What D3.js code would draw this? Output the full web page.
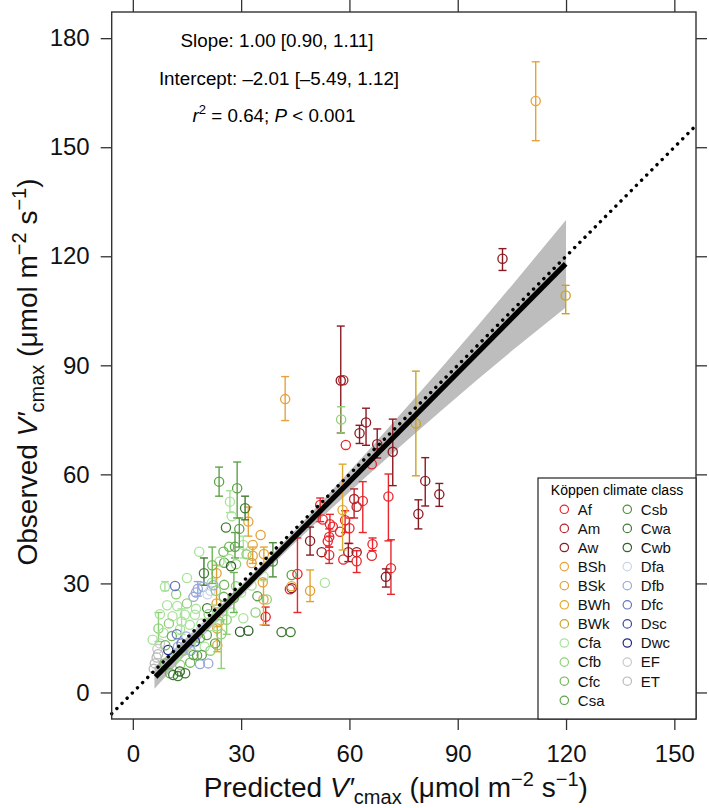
<!DOCTYPE html>
<html><head><meta charset="utf-8">
<script src="https://cdn.jsdelivr.net/npm/d3@7"></script>
<style>
html,body{margin:0;padding:0;background:#fff;}
svg{display:block;font-family:"Liberation Sans",Arial,Helvetica,sans-serif;}
</style></head>
<body><svg id="c" width="709" height="808"></svg>
<script>
// ---------- data ----------
const classNames = ["Af","Am","Aw","BSh","BSk","BWh","BWk","Cfa","Cfb","Cfc","Csa","Csb","Cwa","Cwb","Dfa","Dfb","Dfc","Dsc","Dwc","EF","ET"];
const classColors = ["#e8262b","#b8232c","#8a1a22","#e6a23c","#e2a034","#e0a82c","#c9a227","#a8e39c","#8fd078","#6fb657","#5ea24a","#4f8f3f","#3f7b33","#2f6228","#c7d5ec","#98a9d9","#6674c3","#3a46a1","#1f2a87","#c9c9c9","#b9b9b9"];
const xTicks = [0,30,60,90,120,150];
const yTicks = [0,30,60,90,120,150,180];

const ptClass = ["Aw","Am","Af","Aw","Aw","Aw","Aw","Af","Aw","Aw","Aw","Af","Af","Am","Am","Af","Af","Af","Af","Af","Af","Af","Af","Af","Aw","Aw","Aw","Af","Af","Aw","Af","Af","Af","Af","Aw","Af","Af","Af","Aw","Aw",
"BWk","BSh","BSh","BWk","BWh","BSk","BWh","BSh","BSh","BSk","BSh","BSh","BSk","BWh","BSk","BSh","BSk","BWh","BWh","BSk",
"Csa","Csa","Cfa","Cwa","Cfa","Cwa","Cfc","Cfc","Csa","Cfa","Cfa","Cwa","Csa","Cfb","Cfa","Csb","Cfa","Cfc","Cfb","Cfa","Csa","Cfa","Cfb","Cwb","Cfb","Cfa","Cwa","Cfc","Cfa","Cfa","Cfa","Cfa","Cfb","Cfa","Cfc","Cfa","Cfc","Csa","Csa","Cfa","Cfa","Cfc","Cwa","Cwa","Cfb","Csa","Csa","Cfc","Cfa","Cwa","Cwa","Cwb","Cwb","Cfb","Cfa",
"Dfc","Dfb","Dfb","Dfa","Dfc","EF","Dwc","Dfb","Dfb","Dsc","Dfb","Dfb","ET","ET",
"Cfa","Cfa","Cfa","Cfb","Cfa","Cfa","Cfb","Cfa","Cfb","Cfa","Cfc","Cfb","Cfa","Cfb","Cfb","Dfb","Dfb","Dfa","Dfb","Dfc","Dfb","Dfa","EF","ET","ET","Cwa","Csa","Cwb","Cfc","Cfa","Cfa","Cfb","Cfa","Cfc","Cfa","Cfb","Csa","Cfa","Cfb","Cfa","Cfc","Csa","Cfb"];
const ptPred = [57.6,58.3,59.0,62.8,64.6,67.7,72.0,66.2,81.0,84.9,79.1,70.8,63.7,61.3,62.0,51.9,52.6,54.6,55.4,58.8,60.0,57.4,54.4,54.0,49.1,52.3,59.7,54.4,58.3,62.0,62.0,66.4,66.2,71.5,70.1,45.6,36.8,43.5,44.0,102.4,
78.4,42.2,111.6,119.9,58.1,49.1,44.0,36.2,32.0,35.4,33.2,33.2,32.9,36.3,23.2,36.0,23.2,23.9,23.4,23.4,
23.9,28.9,26.9,31.1,27.4,25.8,25.1,26.7,28.3,30.6,18.4,19.7,25.3,28.6,26.7,38.8,8.9,25.3,28.6,32.9,44.0,53.2,57.7,27.2,12.0,21.9,20.6,25.2,12.3,14.4,17.2,15.8,7.1,8.5,10.8,13.1,18.6,20.5,22.8,19.9,30.6,10.3,11.2,14.5,13.1,16.8,19.1,15.9,11.9,41.2,43.7,29.7,32.0,37.1,36.2,
11.7,16.8,19.5,20.7,12.2,7.5,9.8,12.5,14.8,17.2,18.6,20.9,6.1,6.6,
9.5,11.0,13.5,15.0,17.5,19.0,21.0,22.5,10.0,7.5,9.0,14.0,16.0,21.5,24.5,17.5,18.0,21.5,22.3,13.5,16.0,19.0,6.8,7.0,5.8,12.5,17.8,13.0,8.8,5.5,24.8,26.0,27.5,28.0,30.0,34.0,34.5,15.0,23.0,24.0,22.0,29.5,31.5];
const ptObs = [85.8,85.9,68.1,71.3,74.3,68.3,66.2,62.8,58.2,54.5,49.1,53.9,52.7,53.2,51.1,51.6,47.6,46.3,45.6,47.4,45.2,44.2,42.8,41.6,41.7,38.6,38.6,37.8,36.6,38.6,36.1,40.8,37.6,34.2,31.8,32.6,20.8,28.4,28.7,119.3,
74.0,80.7,162.7,109.2,50.2,28.0,29.2,25.6,47.0,43.3,40.6,37.6,35.6,38.1,32.8,30.3,24.5,19.5,13.0,17.6,
58.0,56.2,52.5,50.7,48.5,45.4,38.7,40.1,40.1,40.6,38.7,32.8,35.7,35.3,36.7,36.0,29.1,29.6,29.2,29.4,32.3,30.2,75.1,34.7,27.0,30.2,23.2,26.3,23.8,21.4,21.4,18.6,17.6,16.4,15.5,17.4,15.0,15.8,13.5,12.6,20.4,5.3,4.8,5.3,7.6,10.3,10.3,8.2,9.9,16.6,16.6,16.7,17.0,25.6,31.9,
29.3,26.3,29.1,27.0,16.0,13.5,11.7,12.6,15.4,14.0,7.8,8.0,8.0,9.6,
24.0,21.0,19.5,24.5,23.0,19.0,21.5,20.5,19.0,21.5,13.0,11.5,13.0,11.5,16.0,27.5,28.5,28.0,29.5,13.5,11.5,17.5,12.0,10.5,6.5,4.5,10.2,5.8,8.0,14.5,22.5,20.0,22.0,26.0,27.5,22.0,26.5,31.5,28.0,36.0,35.0,45.0,38.0];
const ptLo = [71.4,null,null,68.5,68.0,64.5,56.9,null,51.3,51.2,45.0,41.7,44.0,48.0,null,47.0,null,43.0,null,44.0,41.0,null,40.0,null,37.8,null,36.0,35.5,null,null,33.0,39.0,null,27.0,29.0,22.0,18.5,null,null,116.1,
59.6,74.8,151.8,104.2,39.2,25.0,null,18.6,43.0,null,null,35.5,null,35.0,24.0,null,null,null,11.2,null,
54.0,48.0,49.5,47.5,null,null,null,null,37.0,37.0,null,29.5,null,null,null,31.8,28.0,null,null,null,null,null,71.4,null,null,null,null,null,null,null,null,null,14.0,null,null,null,null,null,null,null,null,null,null,null,null,null,null,null,null,null,null,null,null,null,null,
null,null,null,null,null,null,null,null,null,null,null,null,null,null,
null,null,16.0,null,null,null,null,17.0,null,null,null,null,null,null,6.6,null,26.5,null,null,null,null,null,null,null,null,null,null,null,null,null,null,16.0,null,22.0,null,null,null,null,null,null,30.0,40.0,null];
const ptHi = [100.8,null,null,73.5,78.2,72.5,75.2,null,64.6,57.5,53.0,60.1,58.0,56.0,null,53.5,null,49.0,null,50.0,48.0,null,45.0,null,45.5,null,41.0,40.0,null,null,39.0,42.5,null,42.0,34.0,42.5,23.5,null,null,122.1,
88.4,86.9,173.5,112.0,62.8,33.7,null,31.0,51.0,null,null,40.0,null,40.0,35.0,null,null,null,18.1,null,
62.0,63.4,55.5,54.0,null,null,null,null,44.0,43.0,null,37.0,null,null,null,41.2,30.5,null,null,null,null,null,78.6,null,null,null,null,null,null,null,null,null,22.0,null,null,null,null,null,null,null,null,null,null,null,null,null,null,null,null,null,null,null,null,null,null,
null,null,null,null,null,null,null,null,null,null,null,null,null,null,
null,null,23.0,null,null,null,null,24.0,null,null,null,null,null,null,20.0,null,30.5,null,null,null,null,null,null,null,null,null,null,null,null,null,null,24.0,null,33.0,null,null,null,null,null,null,40.0,48.0,null];

// regression fit and confidence band
const fitSlope = 1.00, fitIntercept = -2.01;
const fitRange = [6.3, 119.9];
const ciX  = [6, 15, 25, 35, 45, 55, 65, 75, 85, 95, 105, 120];
const ciLo = [0.99,10.79,21.39,31.59,41.29,50.59,59.69,68.49,77.19,85.69,93.99,105.99];
const ciHi = [6.99,15.19,24.59,34.39,44.69,55.39,66.29,77.49,88.79,100.29,111.99,129.99];

const annoLines = ["Slope: 1.00 [0.90, 1.11]","Intercept: \u20132.01 [\u20135.49, 1.12]"];

// ---------- drawing ----------
const svg = d3.select("#c");
const L=111.7, R=696, T=12, B=719;
const x = d3.scaleLinear().domain([-5.85,156.0]).range([L,R]);
const y = d3.scaleLinear().domain([-7.3,187.2]).range([B,T]);
const color = d3.scaleOrdinal().domain(classNames).range(classColors);

// CI band
const band = d3.area().x((d,i)=>x(ciX[i])).y0((d,i)=>y(ciLo[i])).y1((d,i)=>y(ciHi[i]));
svg.append("path").datum(ciX).attr("d",band).attr("fill","#bdbdbd");

// points
const idx = d3.range(ptClass.length);
const g = svg.append("g");
const capW = 4;
idx.forEach(i=>{
  const c = color(ptClass[i]);
  if (ptLo[i]!==null && ptHi[i]!==null){
    const xx = x(ptPred[i]);
    g.append("line").attr("x1",xx).attr("x2",xx).attr("y1",y(ptLo[i])).attr("y2",y(ptHi[i])).attr("stroke",c).attr("stroke-width",1.4);
    [ptLo[i],ptHi[i]].forEach(v=>{
      g.append("line").attr("x1",xx-capW).attr("x2",xx+capW).attr("y1",y(v)).attr("y2",y(v)).attr("stroke",c).attr("stroke-width",1.4);
    });
  }
  g.append("circle").attr("cx",x(ptPred[i])).attr("cy",y(ptObs[i])).attr("r",4.6)
    .attr("fill","none").attr("stroke",c).attr("stroke-width",1.3);
});

// 1:1 line
const d0 = x.domain();
svg.append("line").attr("x1",x(d0[0])).attr("y1",y(d0[0])).attr("x2",x(d0[1])).attr("y2",y(d0[1]))
  .attr("stroke","#000").attr("stroke-width",3.4).attr("stroke-linecap","round").attr("stroke-dasharray","0.1 7.2");

// fitted line
svg.append("line").attr("x1",x(fitRange[0])).attr("y1",y(fitSlope*fitRange[0]+fitIntercept))
  .attr("x2",x(fitRange[1])).attr("y2",y(fitSlope*fitRange[1]+fitIntercept))
  .attr("stroke","#000").attr("stroke-width",5.2);

// axes
const axCol="#333";
function styleAxis(sel){ sel.select(".domain").remove(); sel.selectAll(".tick line").attr("stroke",axCol).attr("stroke-width",1.3); sel.selectAll("text").attr("fill","#111").style("font-size","24px").style("font-family","'Liberation Sans',Arial,sans-serif"); }
svg.append("g").attr("transform",`translate(0,${B})`).call(d3.axisBottom(x).tickValues(xTicks).tickSize(11).tickPadding(15)).call(styleAxis);
svg.append("g").attr("transform",`translate(0,${T})`).call(d3.axisTop(x).tickValues(xTicks).tickSize(12).tickFormat("")).call(styleAxis);
svg.append("g").attr("transform",`translate(${L},0)`).call(d3.axisLeft(y).tickValues(yTicks).tickSize(11).tickPadding(11)).call(styleAxis);
svg.append("g").attr("transform",`translate(${R},0)`).call(d3.axisRight(y).tickValues(yTicks).tickSize(11).tickFormat("")).call(styleAxis);
svg.append("rect").attr("x",L).attr("y",T).attr("width",R-L).attr("height",B-T).attr("fill","none").attr("stroke",axCol).attr("stroke-width",1.4);

// annotations
const ax = 277;
svg.append("text").attr("x",ax).attr("y",46.5).attr("text-anchor","middle").style("font-size","18.8px").text(annoLines[0]);
svg.append("text").attr("x",ax+2).attr("y",85).attr("text-anchor","middle").style("font-size","18.8px").text(annoLines[1]);
const t3 = svg.append("text").attr("x",ax-3).attr("y",121.5).attr("text-anchor","middle").style("font-size","18.8px");
t3.append("tspan").attr("font-style","italic").text("r");
t3.append("tspan").attr("dy",-8).style("font-size","13px").text("2");
t3.append("tspan").attr("dy",8).text(" = 0.64; ");
t3.append("tspan").attr("font-style","italic").text("P");
t3.append("tspan").text(" < 0.001");

// axis titles
function title(sel){
  sel.append("tspan").text("V\u2032").attr("font-style","italic");
  sel.append("tspan").text("cmax").style("font-size","20px").attr("dy",7);
  sel.append("tspan").text(" (\u03bcmol m").attr("dy",-7);
  sel.append("tspan").text("\u22122").style("font-size","20px").attr("dy",-11);
  sel.append("tspan").text(" s").attr("dy",11);
  sel.append("tspan").text("\u22121").style("font-size","20px").attr("dy",-11);
  sel.append("tspan").text(")").attr("dy",11);
}
const xt = svg.append("text").attr("x",(L+R)/2-8).attr("y",797).attr("text-anchor","middle").style("font-size","28px").attr("fill","#111");
xt.append("tspan").text("Predicted ");
title(xt);
const yt = svg.append("text").attr("transform",`translate(37,372) rotate(-90)`).attr("text-anchor","middle").style("font-size","28px").attr("fill","#111");
yt.append("tspan").text("Observed ");
title(yt);

// legend
const lgTop = 478, lgL = 538;
svg.append("rect").attr("x",lgL).attr("y",lgTop).attr("width",R-lgL).attr("height",B-lgTop).attr("fill","#fff").attr("stroke","#222").attr("stroke-width",1.2);
svg.append("text").attr("x",(lgL+R)/2).attr("y",lgTop+17).attr("text-anchor","middle").style("font-size","14px").text("K\u00f6ppen climate class");
classNames.forEach((c,i)=>{
  const col = i<11?0:1, row = i<11?i:i-11;
  const cx = col===0?564.3:627.3, cy = 509.3 + row*19.1;
  svg.append("circle").attr("cx",cx).attr("cy",cy).attr("r",4.2).attr("fill","none").attr("stroke",color(c)).attr("stroke-width",1.2);
  svg.append("text").attr("x",cx+13.5).attr("y",cy+5.3).style("font-size","15px").attr("fill","#111").text(c);
});
</script></body></html>
